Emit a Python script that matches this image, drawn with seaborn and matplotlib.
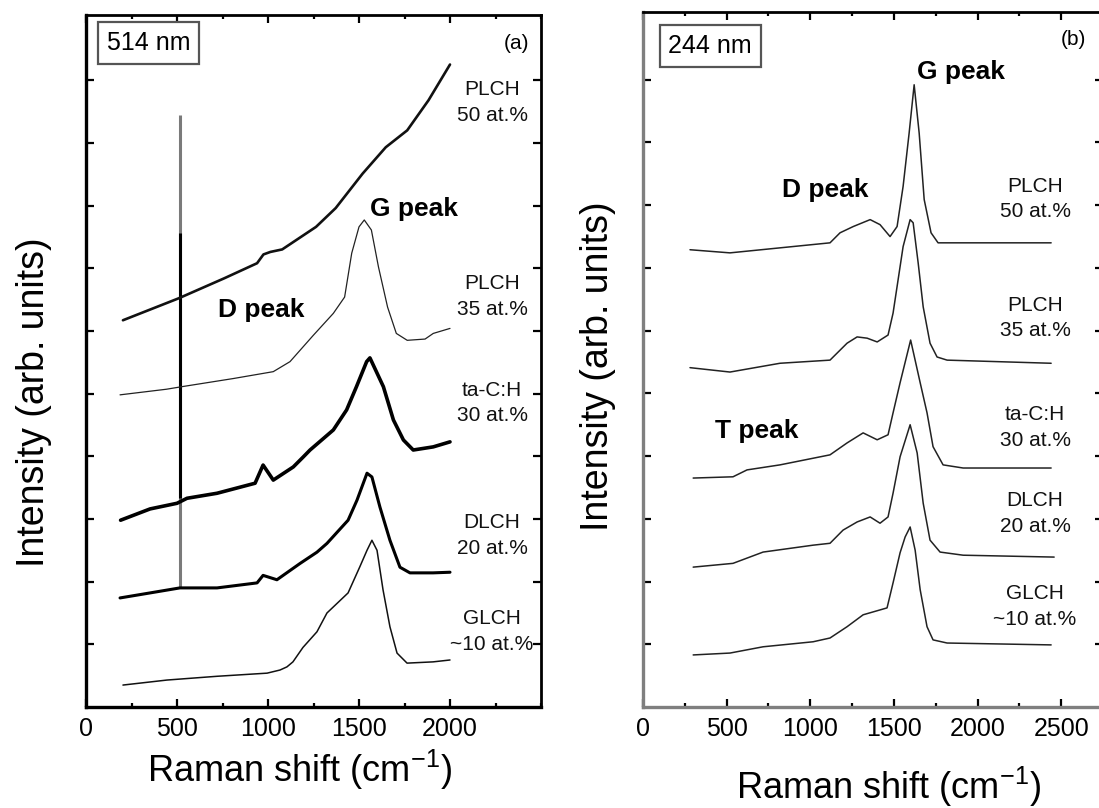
import numpy as np
import pandas as pd
import matplotlib
matplotlib.use("Agg")
import matplotlib.pyplot as plt
from matplotlib.ticker import MultipleLocator, NullFormatter, FixedLocator
import seaborn as sns

# ---------------- data ----------------
# Panel (a): 514 nm excitation
a_plch50_x = [203, 509, 760, 940, 975, 1013, 1078, 1264, 1372, 1520, 1647, 1765, 1882, 2000]
a_plch50_y = [6.17, 6.52, 6.84, 7.08, 7.22, 7.26, 7.30, 7.66, 7.96, 8.51, 8.93, 9.20, 9.68, 10.25]

a_plch35_x = [187, 443, 526, 809, 1029, 1121, 1249, 1359, 1421, 1460, 1500, 1529, 1568, 1607, 1657, 1705, 1765, 1863, 1908, 2000]
a_plch35_y = [4.98, 5.07, 5.11, 5.24, 5.35, 5.51, 5.93, 6.28, 6.54, 7.24, 7.66, 7.77, 7.61, 7.02, 6.38, 5.96, 5.85, 5.87, 5.96, 6.04]

a_tach_x = [190, 352, 500, 555, 720, 929, 973, 1029, 1139, 1194, 1231, 1359, 1432, 1486, 1542, 1560, 1634, 1689, 1744, 1798, 1908, 2000]
a_tach_y = [2.98, 3.16, 3.25, 3.33, 3.41, 3.57, 3.86, 3.62, 3.83, 3.99, 4.10, 4.42, 4.74, 5.11, 5.51, 5.57, 5.11, 4.58, 4.26, 4.10, 4.15, 4.23]

a_dlch_x = [187, 352, 516, 720, 940, 973, 1049, 1176, 1269, 1324, 1440, 1489, 1544, 1571, 1615, 1670, 1725, 1780, 1907, 2000]
a_dlch_y = [1.74, 1.82, 1.90, 1.90, 1.98, 2.10, 2.03, 2.29, 2.47, 2.61, 2.98, 3.30, 3.73, 3.67, 3.19, 2.66, 2.23, 2.14, 2.14, 2.15]

a_glch_x = [203, 445, 720, 995, 1066, 1104, 1137, 1192, 1269, 1324, 1440, 1505, 1544, 1571, 1599, 1632, 1670, 1709, 1764, 1907, 2000]
a_glch_y = [0.35, 0.43, 0.49, 0.54, 0.59, 0.64, 0.72, 0.95, 1.20, 1.50, 1.82, 2.24, 2.50, 2.66, 2.50, 1.87, 1.28, 0.86, 0.70, 0.72, 0.75]

# Si substrate spike (~520 cm-1) in panel (a)
si_x = [516, 516]
si_low = [1.90, 3.33]
si_high = [9.44, 7.56]

# Panel (b): 244 nm excitation
b_plch50_x = [281, 520, 819, 1118, 1178, 1257, 1358, 1417, 1477, 1519, 1555, 1591, 1621, 1651, 1681, 1722, 1764, 1818, 2016, 2440]
b_plch50_y = [7.29, 7.24, 7.32, 7.40, 7.56, 7.66, 7.77, 7.69, 7.50, 7.66, 8.30, 9.15, 9.92, 9.15, 8.09, 7.56, 7.40, 7.40, 7.40, 7.40]

b_plch35_x = [281, 520, 819, 1118, 1220, 1280, 1340, 1400, 1465, 1495, 1525, 1555, 1597, 1615, 1645, 1675, 1716, 1758, 1818, 2440]
b_plch35_y = [5.41, 5.34, 5.48, 5.53, 5.80, 5.90, 5.88, 5.82, 5.93, 6.28, 6.81, 7.34, 7.77, 7.72, 7.08, 6.38, 5.80, 5.58, 5.53, 5.48]

b_tach_x = [300, 538, 622, 819, 1118, 1220, 1316, 1400, 1465, 1495, 1537, 1600, 1657, 1698, 1734, 1794, 1914, 2440]
b_tach_y = [3.65, 3.67, 3.78, 3.86, 4.02, 4.21, 4.37, 4.26, 4.34, 4.69, 5.17, 5.85, 5.17, 4.69, 4.15, 3.86, 3.81, 3.81]

b_dlch_x = [300, 538, 718, 1017, 1118, 1196, 1280, 1358, 1417, 1465, 1495, 1537, 1597, 1639, 1675, 1716, 1776, 1914, 2458]
b_dlch_y = [2.23, 2.29, 2.47, 2.58, 2.61, 2.82, 2.95, 3.03, 2.93, 3.03, 3.41, 3.99, 4.50, 4.05, 3.25, 2.66, 2.47, 2.42, 2.39]

b_glch_x = [300, 520, 718, 1017, 1118, 1220, 1316, 1459, 1495, 1537, 1567, 1597, 1627, 1657, 1698, 1734, 1818, 2440]
b_glch_y = [0.83, 0.86, 0.96, 1.04, 1.10, 1.28, 1.47, 1.58, 1.98, 2.46, 2.71, 2.87, 2.50, 1.87, 1.28, 1.07, 1.02, 0.99]

sample_labels = ["PLCH\n50 at.%", "PLCH\n35 at.%", "ta-C:H\n30 at.%", "DLCH\n20 at.%", "GLCH\n~10 at.%"]
a_label_y = [9.65, 6.55, 4.85, 2.74, 1.20]
b_label_y = [8.10, 6.20, 4.45, 3.08, 1.60]

a_x_ticks = [0, 500, 1000, 1500, 2000]
b_x_ticks = [0, 500, 1000, 1500, 2000, 2500]
y_ticks = [1, 2, 3, 4, 5, 6, 7, 8, 9, 10]

# ---------------- style ----------------
sns.set_theme(style="ticks")
plt.rcParams["font.family"] = ["Liberation Sans", "DejaVu Sans"]
plt.rcParams["mathtext.default"] = "regular"

fig = plt.figure(figsize=(10.99, 8.08), dpi=100)
axA = fig.add_axes([86 / 1099, 101 / 808, 455 / 1099, 692 / 808])
axB = fig.add_axes([643 / 1099, 101 / 808, 460 / 1099, 695 / 808])


def draw(ax, x, y, lw, color):
    df = pd.DataFrame({"x": x, "y": y})
    sns.lineplot(data=df, x="x", y="y", ax=ax, color=color, linewidth=lw,
                 sort=False, estimator=None, legend=False)


# panel (a)
axA.vlines(si_x[0], si_low[0], si_high[0], color="#7a7a7a", linewidth=2.2, zorder=1)
axA.vlines(si_x[1], si_low[1], si_high[1], color="black", linewidth=2.2, zorder=1)
draw(axA, a_plch50_x, a_plch50_y, 1.9, "#111111")
draw(axA, a_plch35_x, a_plch35_y, 0.9, "#222222")
draw(axA, a_tach_x, a_tach_y, 2.6, "black")
draw(axA, a_dlch_x, a_dlch_y, 2.2, "black")
draw(axA, a_glch_x, a_glch_y, 1.1, "#111111")

# panel (b)
for xs, ys in [(b_plch50_x, b_plch50_y), (b_plch35_x, b_plch35_y), (b_tach_x, b_tach_y),
               (b_dlch_x, b_dlch_y), (b_glch_x, b_glch_y)]:
    draw(axB, xs, ys, 1.1, "#222222")

axA.set_xlim(0, 2500)
axA.set_ylim(0, 11.04)
axB.set_xlim(0, 2750)
axB.set_ylim(0, 11.08)

for ax, spine_col, xt in [(axA, "black", a_x_ticks), (axB, "#7f7f7f", b_x_ticks)]:
    ax.set_xticks(xt)
    ax.xaxis.set_minor_locator(MultipleLocator(250))
    ax.set_yticks(y_ticks)
    ax.yaxis.set_major_formatter(NullFormatter())
    ax.tick_params(axis="both", which="major", direction="in", top=True, right=True,
                   length=6, width=1.6, color="black", labelsize=18, pad=7, labelcolor="black")
    ax.tick_params(axis="x", which="minor", direction="in", top=True, length=3, width=1.6, color="black")
    for s in ["left", "bottom"]:
        ax.spines[s].set_linewidth(2.4)
        ax.spines[s].set_color(spine_col)
    for s in ["top", "right"]:
        ax.spines[s].set_linewidth(2.0)
        ax.spines[s].set_color("black")
    ax.set_xlabel("Raman shift (cm$^{-1}$)", fontsize=26, va="center", color="black")
    ax.set_ylabel("Intensity (arb. units)", fontsize=27, va="center", color="black")

axA.xaxis.set_label_coords(0.47, -0.091)
axA.yaxis.set_label_coords(-0.115, 0.44)
axB.xaxis.set_label_coords(0.534, -0.115)
axB.yaxis.set_label_coords(-0.097, 0.49)

box = dict(boxstyle="square,pad=0.35", fc="white", ec="#555555", lw=1.6)
axA.text(346, 10.59, "514 nm", fontsize=18, ha="center", va="center", bbox=box, color="black")
axB.text(401, 10.54, "244 nm", fontsize=18, ha="center", va="center", bbox=box, color="black")
axA.text(2363, 10.59, "(a)", fontsize=15, ha="center", va="center", color="black")
axB.text(2572, 10.64, "(b)", fontsize=15, ha="center", va="center", color="black")

axA.text(1560, 7.94, "G peak", fontsize=19, fontweight="bold", ha="left", va="center", color="black")
axA.text(725, 6.33, "D peak", fontsize=19, fontweight="bold", ha="left", va="center", color="black")
axB.text(1639, 10.13, "G peak", fontsize=19, fontweight="bold", ha="left", va="center", color="black")
axB.text(831, 8.25, "D peak", fontsize=19, fontweight="bold", ha="left", va="center", color="black")
axB.text(431, 4.40, "T peak", fontsize=19, fontweight="bold", ha="left", va="center", color="black")

for lab, ya in zip(sample_labels, a_label_y):
    axA.text(2231, ya, lab, fontsize=15, ha="center", va="center", linespacing=1.45, color="#111111")
for lab, yb in zip(sample_labels, b_label_y):
    axB.text(2344, yb, lab, fontsize=15, ha="center", va="center", linespacing=1.45, color="#111111")

fig.savefig("out.png", dpi=100)
